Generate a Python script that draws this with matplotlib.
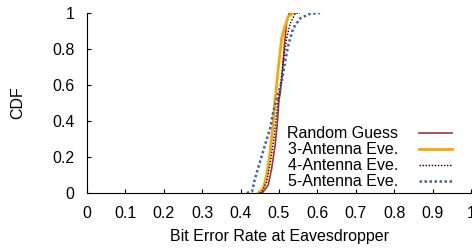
import matplotlib

matplotlib.use("Agg")
import matplotlib.pyplot as plt

# CDF curves: (bit error rate, cumulative fraction)
random_x = [0.455, 0.459, 0.472, 0.481, 0.490, 0.496, 0.500, 0.503, 0.509, 0.514, 0.520, 0.527, 0.542]
random_y = [0.0, 0.007, 0.044, 0.137, 0.267, 0.396, 0.520, 0.550, 0.674, 0.820, 0.950, 1.0, 1.0]

ant3_x = [0.446, 0.459, 0.468, 0.477, 0.485, 0.490, 0.492, 0.498, 0.507, 0.516, 0.524, 0.537]
ant3_y = [0.0, 0.026, 0.100, 0.230, 0.396, 0.530, 0.560, 0.690, 0.860, 0.930, 0.980, 1.0]

ant4_x = [0.450, 0.455, 0.468, 0.478, 0.488, 0.496, 0.503, 0.511, 0.520, 0.529, 0.542, 0.555]
ant4_y = [0.0, 0.004, 0.063, 0.174, 0.322, 0.489, 0.582, 0.730, 0.860, 0.940, 0.998, 1.0]

ant5_x = [0.416, 0.430, 0.4375, 0.450, 0.4635, 0.477, 0.485, 0.496, 0.507, 0.516, 0.524, 0.537, 0.555, 0.580, 0.607]
ant5_y = [0.0, 0.01, 0.080, 0.170, 0.267, 0.360, 0.450, 0.540, 0.618, 0.730, 0.820, 0.915, 0.970, 0.995, 1.0]

xticks = [0, 0.1, 0.2, 0.3, 0.4, 0.5, 0.6, 0.7, 0.8, 0.9, 1]
xticklabels = ["0", "0.1", "0.2", "0.3", "0.4", "0.5", "0.6", "0.7", "0.8", "0.9", "1"]
yticks = [0, 0.2, 0.4, 0.6, 0.8, 1]
yticklabels = ["0", "0.2", "0.4", "0.6", "0.8", "1"]

plt.rcParams["font.family"] = ["Liberation Sans", "DejaVu Sans"]
plt.rcParams["font.size"] = 11.5

fig = plt.figure(figsize=(4.72, 2.48), dpi=100)
ax = fig.add_axes([87 / 472, 55 / 248, 384 / 472, 180 / 248])

ax.plot(random_x, random_y, color="#a83232", lw=1.2, label="Random Guess")
ax.plot(ant3_x, ant3_y, color="#ffa500", lw=2.0, label="3-Antenna Eve.")
ax.plot(ant4_x, ant4_y, color="black", lw=1.0, ls=(0, (1, 1.2)), label="4-Antenna Eve.")
ax.plot(ant5_x, ant5_y, color="#3b64a0", lw=1.8, ls=(0, (1, 1)), label="5-Antenna Eve.")

ax.set_xlim(0, 1)
ax.set_ylim(0, 1)
ax.set_xticks(xticks)
ax.set_xticklabels(xticklabels)
ax.set_yticks(yticks)
ax.set_yticklabels(yticklabels)
ax.tick_params(direction="in", length=3, width=0.8, pad=9)
ax.spines["top"].set_visible(False)
ax.spines["right"].set_visible(False)
ax.set_xlabel("Bit Error Rate at Eavesdropper", labelpad=6)
ax.set_ylabel("CDF", labelpad=19)

ax.legend(loc="lower right", frameon=False, markerfirst=False, handlelength=2.1,
          handletextpad=1.3, labelspacing=0.06, borderaxespad=0.0,
          bbox_to_anchor=(0.968, -0.015))

fig.savefig("out.png", dpi=100)
plt.close(fig)
